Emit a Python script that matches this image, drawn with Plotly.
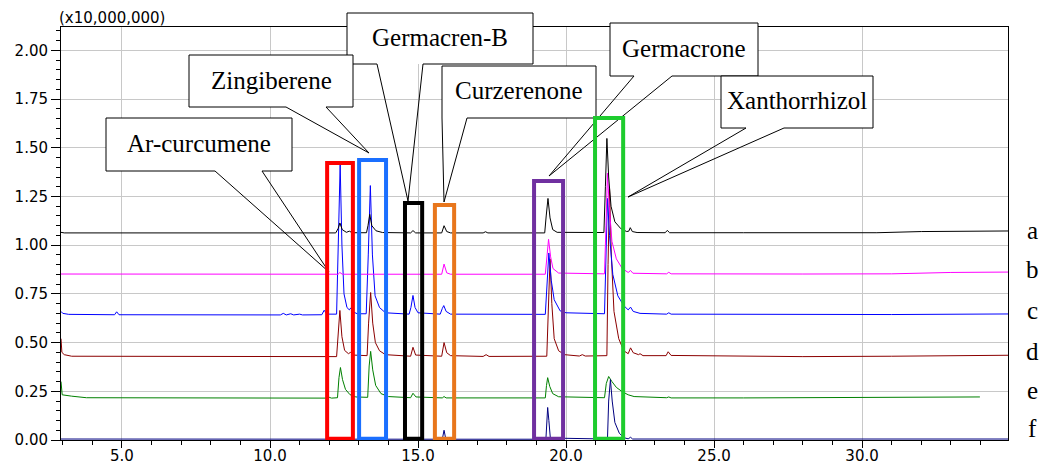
import plotly.graph_objects as go

# ---------------- data (retention time [min], intensity [x10,000,000]) ----------------
trace_a = [(2.94,1.066),(3.05,1.063),(12.22,1.063),(12.3,1.085),(12.36,1.114),(12.44,1.08),(12.58,1.066),
           (12.68,1.072),(12.78,1.064),(13.26,1.064),(13.31,1.1),(13.37,1.158),(13.44,1.1),(13.58,1.074),
           (13.8,1.065),(14.75,1.063),(14.83,1.075),(14.92,1.063),(15.8,1.063),(15.88,1.1),(15.97,1.07),
           (16.1,1.063),(17.2,1.063),(17.28,1.069),(17.36,1.063),(19.28,1.063),(19.33,1.15),(19.39,1.24),
           (19.46,1.14),(19.55,1.08),(19.7,1.066),(21.28,1.065),(21.33,1.3),(21.38,1.548),(21.44,1.35),
           (21.52,1.2),(21.65,1.12),(21.85,1.085),(22.05,1.07),(22.12,1.072),(22.17,1.09),(22.24,1.07),
           (22.4,1.065),(23.35,1.064),(23.42,1.076),(23.5,1.064),(26.0,1.064),(30.5,1.064),(32.0,1.07),
           (34.93,1.073)]
trace_b = [(2.94,0.852),(12.3,0.851),(12.36,0.86),(12.44,0.851),(15.8,0.851),(15.88,0.903),(15.97,0.858),
           (16.1,0.851),(19.3,0.851),(19.35,0.95),(19.41,1.03),(19.48,0.94),(19.56,0.88),(19.75,0.857),
           (21.3,0.853),(21.35,1.1),(21.4,1.37),(21.46,1.2),(21.55,1.02),(21.7,0.93),(21.9,0.88),(22.1,0.86),
           (22.18,0.87),(22.26,0.856),(23.4,0.853),(23.47,0.861),(23.55,0.853),(28.0,0.852),(31.0,0.853),
           (33.0,0.86),(34.93,0.862)]
trace_c = [(2.94,0.66),(3.0,0.65),(3.2,0.645),(4.75,0.643),(4.82,0.658),(4.9,0.643),(10.35,0.642),
           (10.45,0.65),(10.55,0.642),(10.7,0.648),(10.8,0.642),(11.0,0.646),(11.1,0.642),(11.75,0.643),
           (11.83,0.666),(11.92,0.646),(12.25,0.646),(12.3,0.95),(12.37,1.414),(12.43,1.0),(12.5,0.75),
           (12.6,0.68),(12.68,0.668),(12.73,0.678),(12.8,0.658),(12.95,0.648),(13.25,0.648),(13.32,0.95),
           (13.39,1.306),(13.46,0.95),(13.55,0.74),(13.7,0.68),(13.9,0.653),(14.7,0.646),(14.76,0.68),
           (14.83,0.742),(14.9,0.68),(15.0,0.653),(15.75,0.646),(15.82,0.675),(15.87,0.69),(15.95,0.66),
           (16.1,0.646),(19.3,0.645),(19.35,0.8),(19.42,0.96),(19.5,0.82),(19.6,0.72),(19.8,0.663),
           (20.0,0.653),(21.3,0.648),(21.34,0.9),(21.4,1.24),(21.47,1.05),(21.58,0.85),(21.75,0.74),
           (21.95,0.69),(22.1,0.668),(22.18,0.682),(22.27,0.66),(22.5,0.65),(23.4,0.646),(23.47,0.653),
           (23.55,0.646),(28.0,0.643),(31.0,0.644),(34.93,0.647)]
trace_d = [(2.94,0.52),(2.97,0.45),(3.05,0.438),(3.3,0.43),(12.25,0.428),(12.3,0.55),(12.36,0.665),
           (12.43,0.53),(12.52,0.46),(12.65,0.443),(12.72,0.45),(12.8,0.436),(13.28,0.433),(13.33,0.6),
           (13.4,0.757),(13.47,0.6),(13.56,0.5),(13.7,0.458),(13.9,0.438),(14.75,0.43),(14.83,0.476),
           (14.92,0.436),(15.8,0.43),(15.88,0.5),(15.97,0.448),(16.1,0.433),(17.2,0.429),(17.3,0.438),
           (17.4,0.429),(19.35,0.43),(19.4,0.7),(19.46,0.93),(19.52,0.7),(19.6,0.52),(19.75,0.458),
           (19.95,0.438),(20.45,0.431),(20.55,0.438),(20.65,0.431),(21.38,0.433),(21.42,0.9),(21.47,1.29),
           (21.53,0.95),(21.62,0.66),(21.78,0.52),(21.95,0.458),(22.1,0.443),(22.18,0.473),(22.27,0.448),
           (22.45,0.438),(22.5,0.443),(22.6,0.433),(23.38,0.433),(23.45,0.453),(23.55,0.434),(28.0,0.428),
           (31.0,0.43),(34.93,0.435)]
trace_e = [(2.94,0.3),(2.98,0.232),(3.3,0.225),(3.8,0.217),(11.9,0.215),(12.0,0.219),(12.08,0.215),
           (12.28,0.217),(12.33,0.32),(12.38,0.372),(12.45,0.31),(12.55,0.26),(12.7,0.233),(12.9,0.221),
           (13.3,0.219),(13.35,0.38),(13.4,0.455),(13.47,0.36),(13.57,0.28),(13.75,0.238),(14.0,0.223),
           (14.75,0.217),(14.83,0.24),(14.93,0.221),(15.82,0.216),(15.88,0.223),(15.95,0.216),(19.3,0.216),
           (19.34,0.28),(19.38,0.32),(19.45,0.275),(19.55,0.238),(19.75,0.222),(21.3,0.217),(21.36,0.29),
           (21.44,0.326),(21.55,0.3),(21.7,0.27),(21.9,0.248),(22.1,0.232),(22.3,0.223),(23.4,0.217),
           (23.47,0.221),(23.55,0.216),(26.0,0.216),(30.0,0.217),(33.98,0.221)]
trace_f = [(2.94,0.005),(15.82,0.004),(15.88,0.05),(15.94,0.004),(19.32,0.004),(19.35,0.1),(19.38,0.167),
           (19.42,0.1),(19.47,0.01),(21.4,0.005),(21.44,0.2),(21.5,0.31),(21.56,0.2),(21.65,0.09),
           (21.8,0.035),(21.95,0.012),(22.1,0.006),(22.18,0.014),(22.25,0.005),(34.93,0.005)]

sample_labels = ["a", "b", "c", "d", "e", "f"]

# highlighted retention-time windows
win_start = [11.93, 13.01, 14.56, 15.57, 18.92, 20.98]
win_end   = [12.80, 13.92, 15.14, 16.22, 19.90, 21.93]
win_top   = [1.422, 1.437, 1.217, 1.206, 1.33, 1.653]

compounds = ["Germacren-B", "Zingiberene", "Ar-curcumene", "Curzerenone", "Germacrone", "Xanthorrhizol"]

# ---------------- styling / layout ----------------
W, H = 1042, 466
L, R, T, B = 61, 1008, 27, 440
XR = [2.94, 34.93]
YR = [0, 2.12]

def px(x):
    return (x - L) / (R - L)

def py(y):
    return (B - y) / (B - T)

series_colors = ["#000000", "#ff00ff", "#0000ff", "#8b0000", "#008000", "#000080"]
win_colors = ["#ff0000", "#1a6fff", "#000000", "#e8761c", "#7030a0", "#1ecc2e"]

# callout geometry in page pixels: box (x0, y0, x1, y1), pointer base xs, tip
callout_geom = {
    "Germacren-B": ((347, 13, 533, 64), (377, 423), (408, 201)),
    "Zingiberene": ((189, 55, 353, 107), (286, 326), (369, 153)),
    "Ar-curcumene": ((106, 118, 292, 171), (215, 262), (329, 272)),
    "Curzerenone": ((442, 66, 596, 118), (442, 467), (444, 202)),
    "Germacrone": ((610, 23, 758, 76), (634, 672), (549, 176)),
    "Xanthorrhizol": ((721, 76, 873, 128), (746, 784), (628, 197)),
}
label_pos = {"a": 230, "b": 269, "c": 310, "d": 351, "e": 390, "f": 428}

fig = go.Figure()
draw_order = [4, 5, 3, 2, 1, 0]
all_traces = [trace_a, trace_b, trace_c, trace_d, trace_e, trace_f]
for i in draw_order:
    pts = all_traces[i]
    fig.add_trace(go.Scatter(
        x=[p[0] for p in pts], y=[p[1] for p in pts], mode="lines",
        line=dict(color=series_colors[i], width=1), name=sample_labels[i],
        showlegend=False, hoverinfo="skip"))

shapes = []
annotations = []
for name in compounds:
    (x0, y0, x1, y1), (b1, b2), (tx, ty) = callout_geom[name]
    shapes.append(dict(type="rect", xref="paper", yref="paper", x0=px(x0), x1=px(x1), y0=py(y1), y1=py(y0),
                       line=dict(width=0), fillcolor="#ffffff", layer="above"))
    path = (f"M {px(tx)} {py(ty)} L {px(b1)} {py(y1)} L {px(x0)} {py(y1)} L {px(x0)} {py(y0)} "
            f"L {px(x1)} {py(y0)} L {px(x1)} {py(y1)} L {px(b2)} {py(y1)} L {px(tx)} {py(ty)}")
    shapes.append(dict(type="path", xref="paper", yref="paper", path=path,
                       line=dict(color="#000000", width=1), fillcolor="rgba(0,0,0,0)", layer="above"))
    annotations.append(dict(xref="paper", yref="paper", x=px((x0 + x1) / 2), y=py((y0 + y1) / 2 - 1),
                            text=name, showarrow=False, xanchor="center", yanchor="middle",
                            font=dict(family="Liberation Serif", size=25, color="#000000")))

for s, e, t, c in zip(win_start, win_end, win_top, win_colors):
    shapes.append(dict(type="rect", xref="x", yref="y", x0=s, x1=e, y0=0.006, y1=t,
                       line=dict(color=c, width=4), fillcolor="rgba(0,0,0,0)", layer="above"))

for lab in sample_labels:
    annotations.append(dict(xref="paper", yref="paper", x=px(1032), y=py(label_pos[lab]),
                            text=lab, showarrow=False, xanchor="center", yanchor="middle",
                            font=dict(family="Liberation Serif", size=25, color="#000000")))

annotations.append(dict(xref="paper", yref="paper", x=px(112), y=py(18), text="(x10,000,000)",
                        showarrow=False, xanchor="center", yanchor="middle",
                        font=dict(family="DejaVu Sans", size=15, color="#000000")))

axis_font = dict(family="DejaVu Sans", size=15, color="#000000")
fig.update_layout(
    width=W, height=H,
    margin=dict(l=L, r=W - R, t=T, b=H - B, autoexpand=False),
    paper_bgcolor="#ffffff", plot_bgcolor="#ffffff",
    shapes=shapes, annotations=annotations,
    xaxis=dict(range=XR, tick0=0, dtick=5, tickformat=".1f", ticks="outside", ticklen=7,
               tickcolor="#000000", showline=True, linecolor="#000000", linewidth=1, mirror=True,
               showgrid=True, gridcolor="#c8c8c8", gridwidth=1, zeroline=False, tickfont=axis_font,
               automargin=False, ticklabelstandoff=-5,
               minor=dict(dtick=1, tick0=0, ticks="outside", ticklen=4, tickcolor="#000000", showgrid=False)),
    yaxis=dict(range=YR, tick0=0, dtick=0.25, tickformat=".2f", ticks="outside", ticklen=9,
               tickcolor="#000000", showline=True, linecolor="#000000", linewidth=1, mirror=True,
               showgrid=True, gridcolor="#c8c8c8", gridwidth=1, zeroline=False, tickfont=axis_font,
               automargin=False,
               minor=dict(dtick=0.05, tick0=0, ticks="outside", ticklen=4, tickcolor="#000000", showgrid=False)),
)

fig.write_html("out.html", config={"displayModeBar": False},
               post_script="document.body.style.margin='0px';")
